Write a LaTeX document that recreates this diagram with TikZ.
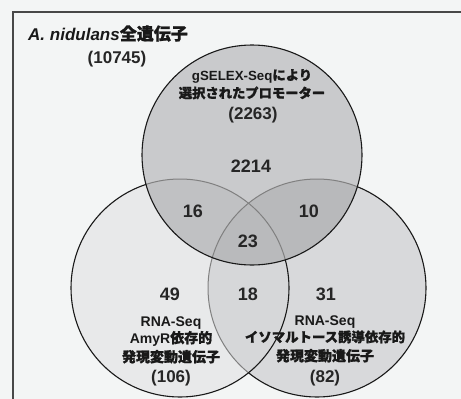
\documentclass[tikz,border=0pt]{standalone}
\usepackage{fontspec}
\setmainfont{Liberation Sans}
\newfontfamily\jp{Noto Sans CJK JP}[BoldFeatures={FakeBold=1.2}]
\definecolor{bgc}{HTML}{F3F5F5}
\definecolor{colL}{HTML}{E8E9EA}
\definecolor{colR}{HTML}{D8D9DB}
\definecolor{colLR}{HTML}{D6D7D9}
\definecolor{colT}{HTML}{C9CACC}
\definecolor{colTL}{HTML}{C0C1C3}
\definecolor{colTR}{HTML}{B8B9BB}
\definecolor{colTLR}{HTML}{B9BABC}
\definecolor{framec}{HTML}{484848}
\definecolor{greyline}{HTML}{808080}
\begin{document}
\begin{tikzpicture}[x=1pt,y=-1pt,
  outline/.style={draw=black!90, line width=1.1pt},
  innerline/.style={draw=greyline, line width=1.0pt},
  lab/.style={font=\bfseries\fontsize{14}{16}\selectfont, anchor=base, inner sep=0pt, text=black!90},
  toplab/.style={font=\bfseries\fontsize{13.3}{15}\selectfont, anchor=base, inner sep=0pt, text=black!90},
  num/.style={font=\bfseries\fontsize{18}{20}\selectfont, anchor=base, inner sep=0pt, text=black!85},
  cnt/.style={font=\bfseries\fontsize{17}{19}\selectfont, anchor=base, inner sep=0pt, text=black!85}]
\useasboundingbox (0,0) rectangle (461,399);
\fill[bgc] (0,0) rectangle (461,399);
\draw[framec, line width=1.3pt] (13,12) rectangle (480,420);
\def\circT{(252,155) circle[radius=110pt]}
\def\circL{(180,288) circle[radius=109pt]}
\def\circR{(317,288) circle[radius=109pt]}
% right circle
\fill[colR] \circR;
\draw[outline] \circR;
% left circle
\fill[colL] \circL;
\begin{scope}
  \clip \circL;
  \fill[colLR] \circR;
  \draw[innerline] \circR;
\end{scope}
\draw[outline] \circL;
% top circle
\fill[colT] \circT;
\begin{scope}
  \clip \circT;
  \fill[colTL] \circL;
  \fill[colTR] \circR;
  \begin{scope}
    \clip \circL;
    \fill[colTLR] \circR;
  \end{scope}
  \draw[innerline] \circL;
  \draw[innerline] \circR;
\end{scope}
\draw[outline] \circT;
% title
\node[anchor=base west, inner sep=0pt, font=\bfseries\fontsize{17}{19}\selectfont, text=black!90] (title) at (28,40) {\textit{A. nidulans}{\jp 全遺伝子}};
\node[cnt] (all) at (117,63) {(10745)};
% top label
\node[toplab] (t1) at (252,80) {gSELEX-Seq{\jp により}};
\node[toplab] (t2) at (252,98) {\jp 選択されたプロモーター};
\node[cnt] (t3) at (253,119) {(2263)};
% numbers
\node[num] (n2214) at (251,172) {2214};
\node[num] (n16) at (193,217) {16};
\node[num] (n10) at (309,217) {10};
\node[num] (n23) at (248,247) {23};
\node[num] (n49) at (170,300) {49};
\node[num] (n18) at (248,300) {18};
\node[num] (n31) at (326,300) {31};
% left label
\node[lab] (l1) at (171,326) {RNA-Seq};
\node[lab] (l2) at (171,343) {AmyR{\jp 依存的}};
\node[lab] (l3) at (171,362) {\jp 発現変動遺伝子};
\node[cnt] (l4) at (171,382) {(106)};
% right label
\node[lab] (r1) at (325,325) {RNA-Seq};
\node[lab] (r2) at (325,342) {\jp\fontsize{13.4}{15}\selectfont イソマルトース誘導依存的};
\node[lab] (r3) at (325,361) {\jp 発現変動遺伝子};
\node[cnt] (r4) at (325,382) {(82)};
\end{tikzpicture}
\end{document}
